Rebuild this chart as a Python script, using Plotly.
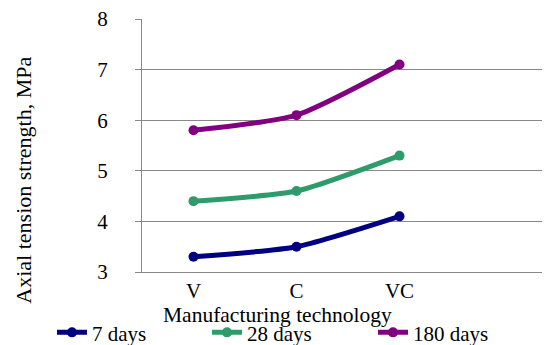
import plotly.graph_objects as go

categories = ["V", "C", "VC"]
days7 = [3.3, 3.5, 4.1]
days28 = [4.4, 4.6, 5.3]
days180 = [5.8, 6.1, 7.1]
series_names = ["7 days", "28 days", "180 days"]
colors = ["#000080", "#2E9B6B", "#800080"]

FONT = "Liberation Serif"
W = 550
legend_ids = ["legend", "legend2", "legend3"]
legend_left_px = [44, 199, 365]

fig = go.Figure()
for name, vals, col, lid in zip(series_names, [days7, days28, days180], colors, legend_ids):
    fig.add_trace(go.Scatter(
        x=categories, y=vals, name=name, mode="lines+markers",
        line=dict(color=col, width=5, shape="spline", smoothing=0.6),
        marker=dict(color=col, size=10), legend=lid,
    ))

legend_common = dict(orientation="h", xref="container", xanchor="left",
                     y=-0.24, yanchor="middle", font=dict(size=21),
                     bgcolor="rgba(0,0,0,0)", borderwidth=0)

layout_legends = {}
for lid, px in zip(legend_ids, legend_left_px):
    layout_legends[lid] = dict(legend_common, x=px / W)

fig.update_layout(
    width=W, height=345,
    margin=dict(l=134, r=4, t=11, b=81, autoexpand=False),
    paper_bgcolor="white", plot_bgcolor="white",
    font=dict(family=FONT, size=21, color="black"),
    showlegend=True,
    xaxis=dict(type="category", categoryorder="array", categoryarray=categories,
               range=[-0.5, 3.5], showgrid=False, showline=True, linecolor="#888888",
               linewidth=1, ticks="", ticklabelstandoff=0, zeroline=False,
               tickfont=dict(size=21)),
    yaxis=dict(range=[3, 8], dtick=1, showgrid=True, gridcolor="#888888", gridwidth=1,
               showline=True, linecolor="#888888", linewidth=1, ticks="outside",
               ticklen=6, tickcolor="#888888", ticklabelstandoff=23, zeroline=False,
               ticklabeloverflow="allow", tickfont=dict(size=21)),
    annotations=[
        dict(text="Manufacturing technology", xref="paper", yref="paper",
             x=0.330, y=-0.17, xanchor="center", yanchor="middle",
             showarrow=False, font=dict(size=21.5)),
        dict(text="Axial tension strength, MPa", xref="paper", yref="paper",
             x=-0.287, y=0.364, xanchor="center", yanchor="middle", textangle=-90,
             showarrow=False, font=dict(size=22)),
    ],
    **layout_legends,
)

fig.write_html("out.html")
